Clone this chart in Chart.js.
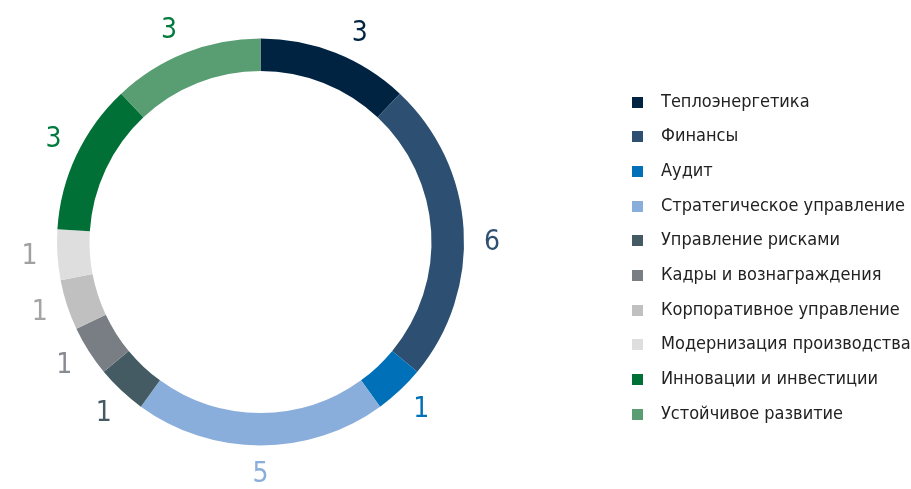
<!DOCTYPE html>
<html lang="ru">
<head>
  <meta charset="UTF-8">
  <title>Доля по направлениям</title>
  <script src="https://cdn.jsdelivr.net/npm/chart.js"></script>
  <style>
    body {
      margin: 0;
      background: #fff;
      font-family: 'DejaVu Sans Condensed', sans-serif;
    }

    .wrap {
      position: relative;
      width: 911px;
      height: 489px;
    }

    .legend {
      position: absolute;
      left: 632px;
      top: 83.7px;
      margin: 0;
      padding: 0;
      list-style: none;
    }

    .legend li {
      height: 34.67px;
      line-height: 34.67px;
      font-size: 18px;
      color: #222;
      white-space: nowrap;
    }

    .legend span {
      display: inline-block;
      width: 11px;
      height: 11px;
      margin-right: 18px;
      vertical-align: -1px;
    }
  </style>
</head>
<body>

<div class="wrap">
  <canvas id="ringChart" width="911" height="489"></canvas>
  <ul class="legend" id="legend"></ul>
</div>

<script>
  // данные
  const categories = [
    'Теплоэнергетика',
    'Финансы',
    'Аудит',
    'Стратегическое управление',
    'Управление рисками',
    'Кадры и вознаграждения',
    'Корпоративное управление',
    'Модернизация производства',
    'Инновации и инвестиции',
    'Устойчивое развитие'
  ];
  const counts = [3, 6, 1, 5, 1, 1, 1, 1, 3, 3];

  const colors = [
    '#002341',
    '#2d5072',
    '#0070b8',
    '#8aaedb',
    '#445b63',
    '#787e83',
    '#c0c0c0',
    '#dedede',
    '#007036',
    '#589e72'
  ];
  // цвет цифр (светлые сегменты подписаны темнее)
  const labelColors = [
    '#002341',
    '#2d5072',
    '#0070b8',
    '#8aaedb',
    '#445b63',
    '#888c90',
    '#a4a4a4',
    '#a0a0a0',
    '#007a3d',
    '#007a3d'
  ];
  // небольшой сдвиг подписи по углу, градусы
  const labelNudge = [3.8, 3.6, -0.8, 0, -0.6, 0.4, 0.4, 0.1, 1.4, -1.7];

  // подписи значений снаружи кольца
  const outsideLabels = {
    id: 'outsideLabels',
    afterDatasetsDraw(chart) {
      const ctx = chart.ctx;
      const meta = chart.getDatasetMeta(0);
      ctx.save();
      ctx.font = "28px 'DejaVu Sans Condensed', sans-serif";
      ctx.textAlign = 'center';
      ctx.textBaseline = 'middle';
      meta.data.forEach((arc, i) => {
        const mid = (arc.startAngle + arc.endAngle) / 2 + labelNudge[i] * Math.PI / 180;
        const r = arc.outerRadius + 28;
        ctx.fillStyle = labelColors[i];
        ctx.fillText(String(counts[i]), arc.x + Math.cos(mid) * r, arc.y + Math.sin(mid) * r + 1);
      });
      ctx.restore();
    }
  };

  const ctx = document.getElementById('ringChart').getContext('2d');

  new Chart(ctx, {
    type: 'doughnut',
    data: {
      labels: categories,
      datasets: [{
        data: counts,
        backgroundColor: colors,
        borderWidth: 0
      }]
    },
    options: {
      responsive: false,
      animation: false,
      cutout: 171,
      layout: {
        padding: { left: 57, top: 38.5, right: 447, bottom: 43.5 }
      },
      plugins: {
        legend: { display: false },
        tooltip: { enabled: false }
      }
    },
    plugins: [outsideLabels]
  });

  const legend = document.getElementById('legend');
  categories.forEach((name, i) => {
    const li = document.createElement('li');
    li.innerHTML = '<span style="background:' + colors[i] + '"></span>' + name;
    legend.appendChild(li);
  });
</script>

</body>
</html>
